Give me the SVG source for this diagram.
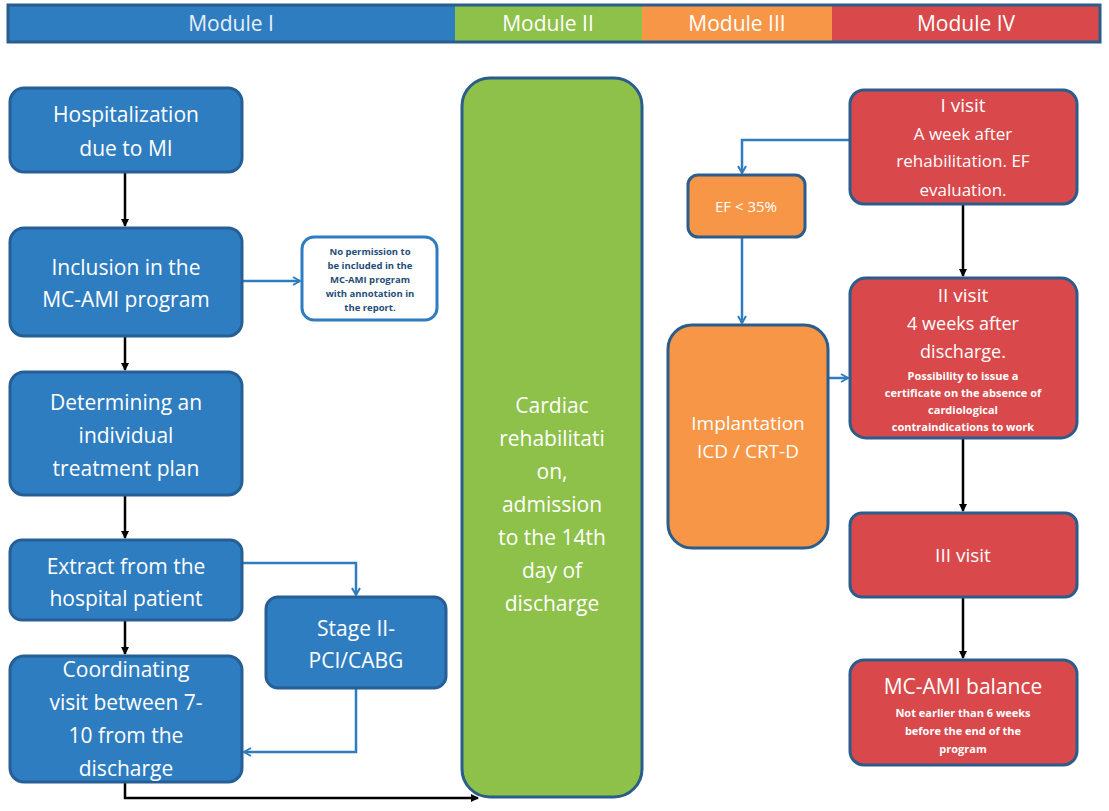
<svg xmlns="http://www.w3.org/2000/svg" width="1109" height="811" viewBox="0 0 1109 811">
<style>
text{font-family:"Open Sans","Liberation Sans",sans-serif;fill:#fff;text-anchor:middle}
.b{fill:#2f7dc1;stroke:#255f95;stroke-width:3}
.r{fill:#d9484a;stroke:#2a5d8c;stroke-width:3}
.o{fill:#f79646;stroke:#2a5d8c;stroke-width:3}
.g{fill:#8dc14a;stroke:#2a5d8c;stroke-width:3}
.t{font-size:21px}
.s{font-size:11px;font-weight:bold}
.k{fill:none;stroke:#000;stroke-width:2.5}
.u{fill:none;stroke:#2f7dc1;stroke-width:2.5}
</style>
<defs>
<marker id="ak" markerWidth="8" markerHeight="8" refX="7" refY="4" orient="auto" markerUnits="userSpaceOnUse"><path d="M0,0L8,4L0,8z" fill="#000"/></marker>
<marker id="au" markerWidth="10" markerHeight="10" refX="8" refY="5" orient="auto" markerUnits="userSpaceOnUse"><path d="M1,1L8,5L1,9" fill="none" stroke="#2f7dc1" stroke-width="2"/></marker>
</defs>
<g id="header">
<rect x="8" y="5" width="447" height="37" fill="#2f7dc1"/>
<rect x="455" y="5" width="187" height="37" fill="#8dc14a"/>
<rect x="642" y="5" width="190" height="37" fill="#f79646"/>
<rect x="832" y="5" width="268" height="37" fill="#d9484a"/>
<rect x="8" y="5" width="1092" height="37" fill="none" stroke="#2a5d8c" stroke-width="3"/>
<text class="t" x="231" y="31" style="fill:#e8eef8">Module I</text>
<text class="t" x="548" y="31">Module II</text>
<text class="t" x="737" y="31">Module III</text>
<text class="t" x="966" y="31">Module IV</text>
</g>
<g id="connectors">
<path class="k" d="M125,172V226" marker-end="url(#ak)"/>
<path class="k" d="M125,336V370" marker-end="url(#ak)"/>
<path class="k" d="M125,495V538" marker-end="url(#ak)"/>
<path class="k" d="M125,620V654" marker-end="url(#ak)"/>
<path class="k" d="M125,782V798H478" marker-end="url(#ak)"/>
<path class="k" d="M963,204V276" marker-end="url(#ak)"/>
<path class="k" d="M963,438V511" marker-end="url(#ak)"/>
<path class="k" d="M963,597V658" marker-end="url(#ak)"/>
<path class="u" d="M242,281H300" marker-end="url(#au)"/>
<path class="u" d="M242,563H356V595" marker-end="url(#au)"/>
<path class="u" d="M356,688V752H244" marker-end="url(#au)"/>
<path class="u" d="M850,140H742V173" marker-end="url(#au)"/>
<path class="u" d="M742,237V323" marker-end="url(#au)"/>
<path class="u" d="M828,378H848" marker-end="url(#au)"/>
</g>
<g id="hosp"><rect class="b" x="10" y="88" width="232" height="84" rx="14"/><text class="t" x="126" y="122">Hospitalization</text><text class="t" x="126" y="156">due to MI</text></g>
<g id="incl"><rect class="b" x="10" y="228" width="232" height="108" rx="14"/><text class="t" x="126" y="275">Inclusion in the</text><text class="t" x="126" y="307">MC-AMI program</text></g>
<g id="noperm"><rect x="302" y="237" width="135" height="83" rx="12" fill="#fff" stroke="#2f7dc1" stroke-width="3"/>
<text class="s" style="fill:#1f4e79;font-size:9.5px" x="370" y="255">No permission to</text><text class="s" style="fill:#1f4e79;font-size:9.5px" x="370" y="269">be included in the</text><text class="s" style="fill:#1f4e79;font-size:9.5px" x="370" y="283">MC-AMI program</text><text class="s" style="fill:#1f4e79;font-size:9.5px" x="370" y="297">with annotation in</text><text class="s" style="fill:#1f4e79;font-size:9.5px" x="370" y="311">the report.</text></g>
<g id="det"><rect class="b" x="10" y="372" width="232" height="123" rx="14"/><text class="t" x="126" y="410">Determining an</text><text class="t" x="126" y="443">individual</text><text class="t" x="126" y="476">treatment plan</text></g>
<g id="extract"><rect class="b" x="10" y="540" width="232" height="80" rx="12"/><text class="t" x="126" y="574">Extract from the</text><text class="t" x="126" y="606">hospital patient</text></g>
<g id="stage"><rect class="b" x="266" y="597" width="180" height="91" rx="12"/><text class="t" x="356" y="636">Stage II-</text><text class="t" x="356" y="668">PCI/CABG</text></g>
<g id="coord"><rect class="b" x="10" y="656" width="232" height="126" rx="14"/><text class="t" x="126" y="677">Coordinating</text><text class="t" x="126" y="710">visit between 7-</text><text class="t" x="126" y="743">10 from the</text><text class="t" x="126" y="776">discharge</text></g>
<g id="cardiac"><rect class="g" x="462" y="78" width="180" height="719" rx="28"/>
<text class="t" x="552" y="413">Cardiac</text><text class="t" x="552" y="446">rehabilitati</text><text class="t" x="552" y="479">on,</text><text class="t" x="552" y="512">admission</text><text class="t" x="552" y="545">to the 14th</text><text class="t" x="552" y="578">day of</text><text class="t" x="552" y="611">discharge</text></g>
<g id="v1"><rect class="r" x="850" y="90" width="227" height="114" rx="14"/><text class="t" x="963" y="112" style="font-size:19px">I visit</text><text x="963" y="140" style="font-size:17px">A week after</text><text x="963" y="167" style="font-size:17px">rehabilitation. EF</text><text x="963" y="196" style="font-size:17px">evaluation.</text></g>
<g id="ef"><rect class="o" x="688" y="175" width="117" height="62" rx="10"/><text x="746" y="212" style="font-size:15px">EF &lt; 35%</text></g>
<g id="impl"><rect class="o" x="668" y="325" width="160" height="223" rx="24"/><text class="t" x="748" y="430" style="font-size:19px">Implantation</text><text class="t" x="748" y="458" style="font-size:19px">ICD / CRT-D</text></g>
<g id="v2"><rect class="r" x="850" y="278" width="227" height="160" rx="16"/><text class="t" x="963" y="302" style="font-size:19px">II visit</text><text x="963" y="330" style="font-size:18px">4 weeks after</text><text x="963" y="358" style="font-size:18px">discharge.</text>
<text class="s" x="963" y="380">Possibility to issue a</text><text class="s" x="963" y="397">certificate on the absence of</text><text class="s" x="963" y="414">cardiological</text><text class="s" x="963" y="431">contraindications to work</text></g>
<g id="v3"><rect class="r" x="850" y="513" width="227" height="84" rx="12"/><text class="t" x="963" y="562" style="font-size:19px">III visit</text></g>
<g id="bal"><rect class="r" x="850" y="660" width="227" height="105" rx="14"/><text class="t" x="963" y="694">MC-AMI balance</text><text class="s" x="963" y="717">Not earlier than 6 weeks</text><text class="s" x="963" y="735">before the end of the</text><text class="s" x="963" y="753">program</text></g>
</svg>
